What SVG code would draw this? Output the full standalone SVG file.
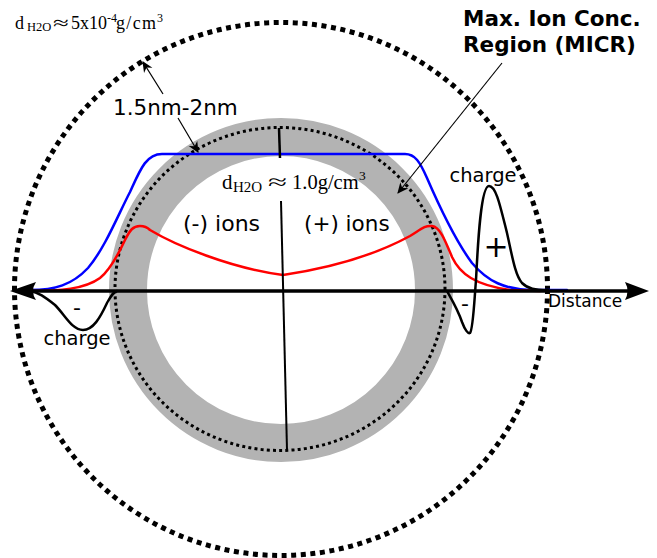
<svg xmlns="http://www.w3.org/2000/svg" width="657" height="558" viewBox="0 0 657 558">
<style>
.sans{font-family:"DejaVu Sans","Liberation Sans",sans-serif;fill:#000}
.serif{font-family:"Liberation Serif","DejaVu Serif",serif;fill:#000}
.curve{fill:none;stroke-width:2.5;stroke-linejoin:round;stroke-linecap:round}
.thin{fill:none;stroke:#000;stroke-width:1.2}
</style>
<defs>
<marker id="ah" viewBox="0 0 10 10" refX="9" refY="5" markerWidth="11" markerHeight="11" markerUnits="userSpaceOnUse" orient="auto">
<path d="M0,0.5 L10,5 L0,9.5 L3,5 Z" fill="#000"/>
</marker>
</defs>
<rect width="657" height="558" fill="#fff"/>
<g id="micr-ring">
<circle cx="281" cy="290" r="153" fill="none" stroke="#b3b3b3" stroke-width="38"/>
</g>
<g id="inner-boundary">
<ellipse cx="280" cy="289" rx="165" ry="161.5" fill="none" stroke="#000" stroke-width="3" stroke-dasharray="3 3.2"/>
</g>
<g id="outer-boundary">
<circle cx="281" cy="289" r="266.5" fill="none" stroke="#000" stroke-width="5" stroke-dasharray="5 4.6"/>
</g>
<g id="curves">
<path class="curve" stroke="#0000ff" d="M30 290 C55 290,72 285,88 268 C105 248,118 215,130 192 C140 170,146 154,162 154 L405 154 C415 154,420 162,427 178 C440 208,455 240,472 263 C488 282,505 289,530 290 L567 290"/>
<path class="curve" stroke="#ff0000" d="M30 291 C60 291,85 289,100 278 C110 270,118 255,125 240 C130 230,133 226,140 226 C145 226,148 228,150 230 C175 245,230 268,283 275 C330 268,375 255,410 236 C420 230,425 225,432 226 C440 227,445 240,452 257 C460 274,475 285,510 290 L540 291"/>
<path class="curve" stroke="#000" d="M30 291 C38 292,45 297,55 305 C65 315,72 330,83 330 C93 330,100 318,107 303 C111 296,113 292,117 291"/>
<path class="curve" stroke="#000" d="M447 291 C452 300,458 310,462 322 C465 330,468 334,470 333 C473 330,474 305,476 280 C478 240,481 186,489 186 C496 186,500 205,507 233 C512 255,515 275,522 283 C528 289,535 290,548 290"/>
</g>
<g id="axis">
<line x1="28" y1="291" x2="630" y2="291" stroke="#000" stroke-width="3.5"/>
<path d="M10 291 L36 282 Q30 291 36 300 Z" fill="#000"/>
<path d="M649 291 L625 282 Q630 291 625 300 Z" fill="#000"/>
<line x1="279" y1="128" x2="280" y2="158" stroke="#000" stroke-width="2.5"/>
<line x1="281" y1="201" x2="287" y2="450" stroke="#000" stroke-width="2"/>
</g>
<g id="connectors">
<line class="thin" x1="163" y1="94" x2="143" y2="62" marker-end="url(#ah)"/>
<line class="thin" x1="178" y1="118" x2="198" y2="152" marker-end="url(#ah)"/>
<line class="thin" x1="502" y1="63" x2="398" y2="193" stroke-width="1" marker-end="url(#ah)"/>
</g>
<g id="labels">
<text class="serif" y="29"><tspan x="15" font-size="18">d</tspan><tspan x="27" y="31" font-size="12.5">H2O</tspan><tspan x="71" y="29" font-size="18">5x10</tspan><tspan x="107" y="22" font-size="12">-4</tspan><tspan x="116" y="29" font-size="18" textLength="40">g/cm</tspan><tspan x="157" y="22" font-size="12">3</tspan></text>
<text class="serif" font-size="18" transform="translate(53 29) scale(1.6 1)">≈</text>
<text class="serif" y="189"><tspan x="222" font-size="21">d</tspan><tspan x="233" y="192" font-size="15">H2O</tspan><tspan x="292" y="189" font-size="20.5">1.0g/cm</tspan><tspan x="359" y="180" font-size="13.5">3</tspan></text>
<text class="serif" font-size="21" transform="translate(268 189) scale(1.65 1)">≈</text>
<text class="sans" x="113" y="115" font-size="21.5">1.5nm-2nm</text>
<text class="sans" x="463" y="26" font-size="21.5" font-weight="bold">Max. Ion Conc.</text>
<text class="sans" x="463" y="52" font-size="21.5" font-weight="bold">Region (MICR)</text>
<text class="sans" x="183" y="231" font-size="22">(-) ions</text>
<text class="sans" x="304" y="231" font-size="21.5">(+) ions</text>
<text class="sans" x="483" y="182" font-size="19.5" text-anchor="middle">charge</text>
<text class="sans" x="77" y="345" font-size="19.5" text-anchor="middle">charge</text>
<text class="sans" x="77" y="315" font-size="22" text-anchor="middle">-</text>
<text class="sans" x="465" y="311" font-size="22" text-anchor="middle">-</text>
<text class="sans" x="496" y="257" font-size="30" text-anchor="middle">+</text>
<text class="sans" x="548" y="307" font-size="17">Distance</text>
</g>
</svg>
